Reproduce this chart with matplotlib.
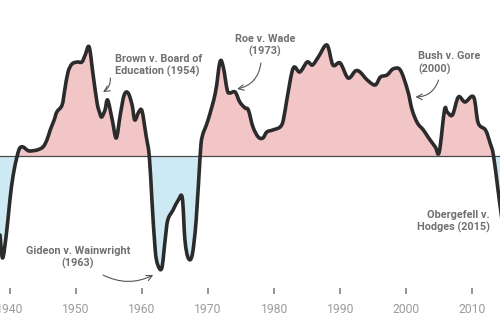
#!/usr/bin/python3

import matplotlib;matplotlib.use('Agg')
import numpy as np
import matplotlib.pyplot as plt
from matplotlib.path import Path
from matplotlib.patches import PathPatch, Rectangle

PNG_FILENAME = 'out.png'
DPI = 100

YEARS = [1938.5, 1938.9, 1939.5, 1940.0, 1940.5, 1941.1, 1941.5, 1942.0, 1942.6, 1943.0,
         1944.1, 1945.0, 1945.6, 1946.1, 1946.7, 1947.1, 1947.9, 1948.3, 1948.8, 1949.4,
         1950.2, 1950.9, 1951.4, 1952.0, 1952.6, 1953.2, 1953.6, 1953.9, 1954.4, 1954.8,
         1955.5, 1956.1, 1956.7, 1957.3, 1957.9, 1958.5, 1958.9, 1959.5, 1960.0, 1960.6,
         1961.1, 1961.5, 1962.0, 1962.4, 1963.0, 1963.5, 1963.9, 1964.7, 1965.5, 1966.1,
         1966.5, 1967.0, 1967.6, 1968.2, 1968.8, 1969.1, 1970.0, 1971.1, 1971.8, 1972.3,
         1972.9, 1973.3, 1974.1, 1974.8, 1975.6, 1976.1, 1976.8, 1977.6, 1978.3, 1978.9,
         1979.8, 1980.9, 1981.4, 1982.0, 1982.9, 1983.9, 1985.0, 1985.8, 1986.7, 1988.0,
         1988.9, 1990.0, 1991.2, 1992.3, 1993.0, 1994.1, 1995.3, 1996.1, 1997.1, 1998.0,
         1999.1, 2000.2, 2000.9, 2001.7, 2002.6, 2003.3, 2004.4, 2005.0, 2005.8, 2006.2,
         2007.0, 2007.9, 2008.9, 2010.2, 2010.9, 2012.0, 2012.7, 2013.2, 2013.9, 2014.5]

# liberal (+) / conservative (-) lean of the court
LEAN = [-0.79, -1.02, -0.76, -0.44, -0.19, 0.00, 0.08, 0.09, 0.06, 0.05,
        0.06, 0.09, 0.16, 0.26, 0.36, 0.44, 0.51, 0.66, 0.84, 0.92,
        0.94, 0.94, 1.01, 1.09, 0.81, 0.53, 0.43, 0.39, 0.46, 0.56,
        0.36, 0.18, 0.41, 0.61, 0.63, 0.51, 0.36, 0.44, 0.45, 0.21,
        0.00, -0.44, -0.94, -1.09, -1.12, -0.84, -0.64, -0.54, -0.44, -0.42,
        -0.84, -1.02, -0.99, -0.64, 0.00, 0.19, 0.36, 0.63, 0.94, 0.89,
        0.66, 0.63, 0.64, 0.54, 0.48, 0.46, 0.29, 0.19, 0.18, 0.24,
        0.26, 0.29, 0.36, 0.59, 0.88, 0.84, 0.94, 0.91, 0.99, 1.11,
        0.91, 0.93, 0.78, 0.85, 0.84, 0.76, 0.71, 0.79, 0.81, 0.87,
        0.86, 0.66, 0.46, 0.33, 0.26, 0.19, 0.09, 0.04, 0.46, 0.44,
        0.41, 0.59, 0.54, 0.59, 0.33, 0.26, 0.13, 0.01, -0.34, -0.64]

TICK_YEARS = [1940, 1950, 1960, 1970, 1980, 1990, 2000, 2010]

CASES = ['Brown v. Board of\nEducation (1954)',
         'Roe v. Wade\n(1973)',
         'Bush v. Gore\n(2000)',
         'Gideon v. Wainwright\n(1963)',
         'Obergefell v.\nHodges (2015)']

PINK = '#f2c5c6'
BLUE = '#cde9f4'
LINE = '#2b2b2b'
NOTE = '#707070'
TICKC = '#9c9c9c'


def smooth_path(x, y):
    # cubic bezier through the points (catmull-rom style handles)
    pts = np.column_stack([x, y])
    verts = [pts[0]]
    codes = [Path.MOVETO]
    n = len(pts)
    for i in range(n - 1):
        p0 = pts[max(i - 1, 0)]
        p1 = pts[i]
        p2 = pts[i + 1]
        p3 = pts[min(i + 2, n - 1)]
        verts += [p1 + (p2 - p0) / 6.0, p2 - (p3 - p1) / 6.0, p2]
        codes += [Path.CURVE4] * 3
    return verts, codes


def draw_plot():
    plt.rcParams['font.family'] = ['Roboto', 'DejaVu Sans']
    fig = plt.figure(figsize=(5.0, 3.32), dpi=DPI)
    ax = fig.add_axes([0, 0.1325, 1, 0.8675])
    ax.set_xlim(1938.5, 2014.2)
    ax.set_ylim(-1.32, 1.56)
    x = np.array(YEARS)
    y = np.array(LEAN)

    verts, codes = smooth_path(x, y)
    area = Path([(x[0], 0)] + verts + [(x[-1], 0), (x[0], 0)],
                [Path.MOVETO] + [Path.LINETO] + codes[1:] + [Path.LINETO, Path.CLOSEPOLY])
    for color, y0, h in [(PINK, 0, 5), (BLUE, -5, 5)]:
        clip = Rectangle((1900, y0), 200, h, transform=ax.transData)
        patch = PathPatch(area, facecolor=color, lw=0, zorder=1)
        ax.add_patch(patch)
        patch.set_clip_path(clip)

    ax.axhline(0, color='#4a4a4a', lw=0.9, zorder=2)
    ax.add_patch(PathPatch(Path(verts, codes), facecolor='none', edgecolor=LINE,
                           lw=2.6, joinstyle='round', capstyle='round', zorder=3))

    for s in ax.spines.values():
        s.set_visible(False)
    ax.set_yticks([])
    ax.set_xticks(TICK_YEARS)
    ax.set_xticklabels([str(t) for t in TICK_YEARS])
    ax.tick_params(axis='x', direction='out', length=4, width=1.3,
                   color='#8a8a8a', labelcolor=TICKC, labelsize=8.7, pad=7)

    txt = dict(color=NOTE, fontsize=7.8, fontweight='bold', linespacing=1.25)
    arr = dict(arrowstyle='->', color='#555555', lw=0.8, shrinkA=0, shrinkB=0)

    ax.text(1955.9, 0.905, CASES[0], ha='left', va='center', **txt)
    ax.annotate('', xy=(1954.1, 0.64), xytext=(1955.2, 0.78),
                arrowprops=dict(connectionstyle='arc3,rad=-0.3', **arr))

    ax.text(1978.6, 1.105, CASES[1], ha='center', va='center', **txt)
    ax.annotate('', xy=(1974.4, 0.67), xytext=(1978.0, 0.93),
                arrowprops=dict(connectionstyle='arc3,rad=-0.35', **arr))

    ax.text(2001.8, 0.93, CASES[2], ha='left', va='center', **txt)
    ax.annotate('', xy=(2001.4, 0.59), xytext=(2004.9, 0.76),
                arrowprops=dict(connectionstyle='arc3,rad=-0.35', **arr))

    ax.text(1950.3, -1.015, CASES[3], ha='center', va='center', **txt)
    ax.annotate('', xy=(1961.7, -1.19), xytext=(1954.1, -1.19),
                arrowprops=dict(connectionstyle='arc3,rad=0.25', **arr))

    ax.text(2012.7, -0.655, CASES[4], ha='right', va='center', **txt)
    ax.annotate('', xy=(2015.0, -0.42), xytext=(2013.1, -0.58),
                arrowprops=dict(connectionstyle='arc3,rad=0.0', **arr))

    plt.savefig(PNG_FILENAME, dpi=DPI)


if __name__ == "__main__":
    draw_plot()
